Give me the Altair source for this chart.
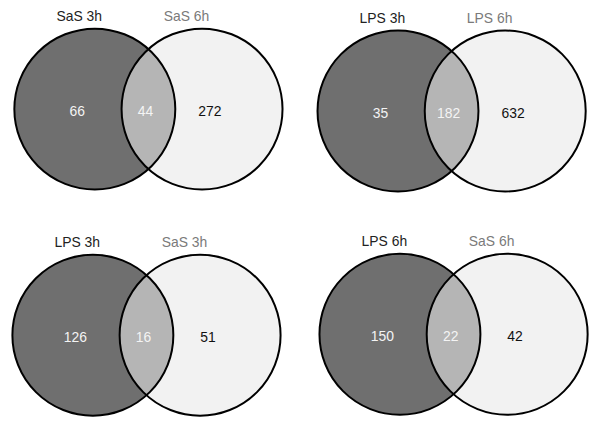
import altair as alt
import pandas as pd
import numpy as np

# ---- data ----
set_a = ["SaS 3h", "LPS 3h", "LPS 3h", "LPS 6h"]
set_b = ["SaS 6h", "LPS 6h", "SaS 3h", "SaS 6h"]
only_a = [66, 35, 126, 150]
both = [44, 182, 16, 22]
only_b = [272, 632, 51, 42]

# ---- layout (in reference-pixel units) ----
COL_X = [143, 454, 141, 456]
ROW_Y = [102, 104, 338, 337]
R = 84          # circle radius
D = 110         # distance between circle centres
W, H = 584, 409
X0, X1 = 2.0, 597.0
Y0, Y1 = 0.0, 424.0
kx = W / (X1 - X0)
ky = H / (Y1 - Y0)
rp = R * ky                 # circle radius in screen pixels
rx, ry = rp / kx, rp / ky   # that radius in data units along each axis

xs = alt.Scale(domain=[X0, X1], nice=False, zero=False)
ys = alt.Scale(domain=[Y0, Y1], nice=False, zero=False, reverse=True)

circ_rows, lens_rows, title_rows, num_rows = [], [], [], []
hy = ry * np.sqrt(1 - (D / (2 * rx)) ** 2)
for i in range(4):
    cx, cy = COL_X[i], ROW_Y[i]
    ax, bx = cx - D / 2, cx + D / 2
    circ_rows.append(dict(panel=i, x=ax, y=cy, side="a"))
    circ_rows.append(dict(panel=i, x=bx, y=cy, side="b"))
    for t in np.linspace(-hy, hy, 161):
        s = rx * np.sqrt(max(1 - (t / ry) ** 2, 0))
        lens_rows.append(dict(panel=i, y=cy + t, xl=bx - s, xr=ax + s))
    title_rows.append(dict(panel=i, x=ax - 16, y=cy - R - 12, label=set_a[i], side="a"))
    title_rows.append(dict(panel=i, x=bx - 16, y=cy - R - 12, label=set_b[i], side="b"))
    num_rows.append(dict(panel=i, x=ax - 18, y=cy + 3, label=str(only_a[i]), side="a"))
    num_rows.append(dict(panel=i, x=cx - 3, y=cy + 3, label=str(both[i]), side="ab"))
    num_rows.append(dict(panel=i, x=bx + 8, y=cy + 3, label=str(only_b[i]), side="b"))

circ = pd.DataFrame(circ_rows)
lens = pd.DataFrame(lens_rows)
titles = pd.DataFrame(title_rows)
nums = pd.DataFrame(num_rows)

size = (2 * rp) ** 2
X = alt.X("x:Q", scale=xs, axis=None)
Y = alt.Y("y:Q", scale=ys, axis=None)

fills = alt.Chart(circ).mark_point(
    shape="circle", filled=True, size=size, opacity=1, strokeWidth=0
).encode(
    x=X, y=Y,
    color=alt.Color("side:N", scale=alt.Scale(domain=["a", "b"], range=["#6f6f6f", "#f2f2f2"]), legend=None),
)

lens_layer = alt.Chart(lens).mark_area(orient="horizontal", color="#b5b5b5", opacity=1).encode(
    y=alt.Y("y:Q", scale=ys, axis=None),
    x=alt.X("xl:Q", scale=xs, axis=None),
    x2="xr:Q",
    detail="panel:N",
)

outlines = alt.Chart(circ).mark_point(
    shape="circle", filled=False, size=size, opacity=1, strokeWidth=2, color="black"
).encode(x=X, y=Y, detail="side:N")

title_layer = alt.Chart(titles).mark_text(
    font="Liberation Sans", fontSize=14, baseline="middle", align="center"
).encode(
    x=X, y=Y, text="label:N",
    color=alt.Color("side:N", scale=alt.Scale(domain=["a", "b"], range=["#222222", "#7a7a7a"]), legend=None),
)

num_layer = alt.Chart(nums).mark_text(
    font="Liberation Sans", fontSize=14, baseline="middle", align="center"
).encode(
    x=X, y=Y, text="label:N",
    color=alt.Color("side:N", scale=alt.Scale(domain=["a", "ab", "b"], range=["#f4f4f4", "#f4f4f4", "#111111"]), legend=None),
)

chart = alt.layer(fills, lens_layer, outlines, title_layer, num_layer).resolve_scale(
    color="independent"
).properties(width=W, height=H, padding=0).configure_view(stroke=None)

chart.save("out.html", embed_options={"renderer": "svg", "actions": False})
